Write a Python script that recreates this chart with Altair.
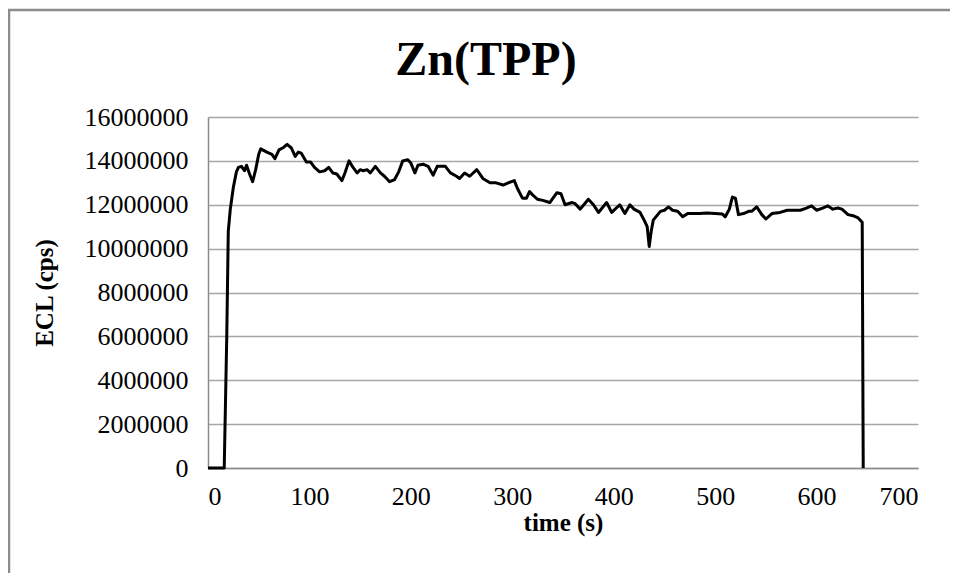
import altair as alt
import pandas as pd

time_s = [0, 16, 18.5, 20, 22, 25, 28, 30, 33, 36, 38, 41, 44, 47, 50, 52, 58, 63, 66, 70,
          74, 78, 82, 86, 89, 92, 97, 101, 105, 110, 115, 119, 123, 127, 132, 135, 139, 143,
          147, 150, 153, 157, 160, 165, 170, 174, 179, 184, 188, 192, 197, 200, 204, 207, 212,
          217, 222, 226, 230, 234, 239, 245, 248, 253, 258, 265, 271, 278, 284, 291, 296, 302,
          305, 310, 314, 317, 320, 325, 330, 337, 344, 348, 352, 359, 362, 367, 375, 380, 385,
          393, 398, 406, 411, 416, 420, 426, 430, 433, 435, 437, 439, 446, 450, 454, 458, 463,
          468, 473, 478, 485, 492, 500, 507, 510, 514, 517, 520, 523, 528, 533, 536, 541, 546,
          550, 556, 564, 571, 577, 584, 590, 595, 600, 606, 611, 616, 621, 625, 631, 636, 641,
          645, 646]
ecl_millions = [0, 0, 6.0, 10.8, 11.8, 12.8, 13.5, 13.7, 13.75, 13.55, 13.8, 13.4, 13.05, 13.6,
                14.3, 14.55, 14.4, 14.3, 14.1, 14.5, 14.6, 14.75, 14.6, 14.2, 14.4, 14.35, 13.95,
                13.95, 13.7, 13.5, 13.55, 13.7, 13.45, 13.4, 13.1, 13.45, 14.0, 13.7, 13.45, 13.6,
                13.55, 13.6, 13.45, 13.75, 13.45, 13.3, 13.05, 13.15, 13.5, 14.0, 14.05, 13.9,
                13.45, 13.8, 13.85, 13.75, 13.35, 13.75, 13.75, 13.75, 13.45, 13.3, 13.2, 13.45,
                13.3, 13.6, 13.2, 13.0, 13.0, 12.9, 13.0, 13.1, 12.75, 12.3, 12.3, 12.6, 12.45,
                12.25, 12.2, 12.1, 12.55, 12.5, 12.0, 12.1, 12.05, 11.8, 12.25, 12.0, 11.65, 12.1,
                11.65, 12.0, 11.6, 12.0, 11.8, 11.65, 11.3, 11.0, 10.1, 10.8, 11.3, 11.7, 11.75,
                11.9, 11.75, 11.7, 11.45, 11.6, 11.6, 11.6, 11.62, 11.6, 11.58, 11.45, 11.8,
                12.35, 12.3, 11.55, 11.6, 11.7, 11.7, 11.9, 11.55, 11.35, 11.6, 11.65, 11.75,
                11.75, 11.75, 11.85, 11.95, 11.75, 11.85, 11.95, 11.8, 11.85, 11.8, 11.55, 11.5,
                11.4, 11.2, 0]

x_ticks = [0, 100, 200, 300, 400, 500, 600, 700]
y_ticks = [0, 2000000, 4000000, 6000000, 8000000, 10000000, 12000000, 14000000, 16000000]
chart_title = "Zn(TPP)"

df = pd.DataFrame({"t": time_s, "ecl": [v * 1_000_000 for v in ecl_millions]})

FONT = "Liberation Serif"
GRID = "#a6a6a6"
AXIS = "#8c8c8c"

line = alt.Chart(df).mark_line(color="black", strokeWidth=3, strokeJoin="round").encode(
    x=alt.X("t:Q", scale=alt.Scale(domain=[0, 700], nice=False),
            axis=alt.Axis(values=x_ticks, title="time (s)", grid=False, ticks=False,
                          domainColor=AXIS, domainWidth=1.5, labelFontSize=26,
                          labelPadding=15, titleFontSize=25, titlePadding=1,
                          labelColor="black", titleColor="black", format="d")),
    y=alt.Y("ecl:Q", scale=alt.Scale(domain=[0, 16000000], nice=False),
            axis=alt.Axis(values=y_ticks, title="ECL (cps)", grid=True, gridColor=GRID,
                          gridWidth=1.3, ticks=False, domainColor=AXIS, domainWidth=1.5,
                          labelFontSize=26, labelPadding=20, titleFontSize=25,
                          titlePadding=27, labelColor="black", titleColor="black",
                          format="d")),
)

frame = alt.Chart(alt.Data(values=[{"f": 1}])).mark_rect(
    fill=None, stroke="#8c8c8c", strokeWidth=2.5
).encode(
    x=alt.value(-199), x2=alt.value(770), y=alt.value(-107), y2=alt.value(480)
)

title = alt.Chart(alt.Data(values=[{"label": chart_title}])).mark_text(
    font=FONT, fontSize=48, fontWeight="bold", align="center", baseline="alphabetic",
    color="black"
).encode(
    text="label:N", x=alt.value(278), y=alt.value(-42)
)

chart = alt.layer(frame, line, title).properties(
    width=710,
    height=351,
    autosize=alt.AutoSizeParams(type="none"),
    padding={"left": 200, "top": 109, "right": 32, "bottom": 105},
).configure(font=FONT).configure_view(stroke=None).configure_axis(
    labelFont=FONT, titleFont=FONT
)

chart.save("out.html", embed_options={"renderer": "svg", "actions": False})
